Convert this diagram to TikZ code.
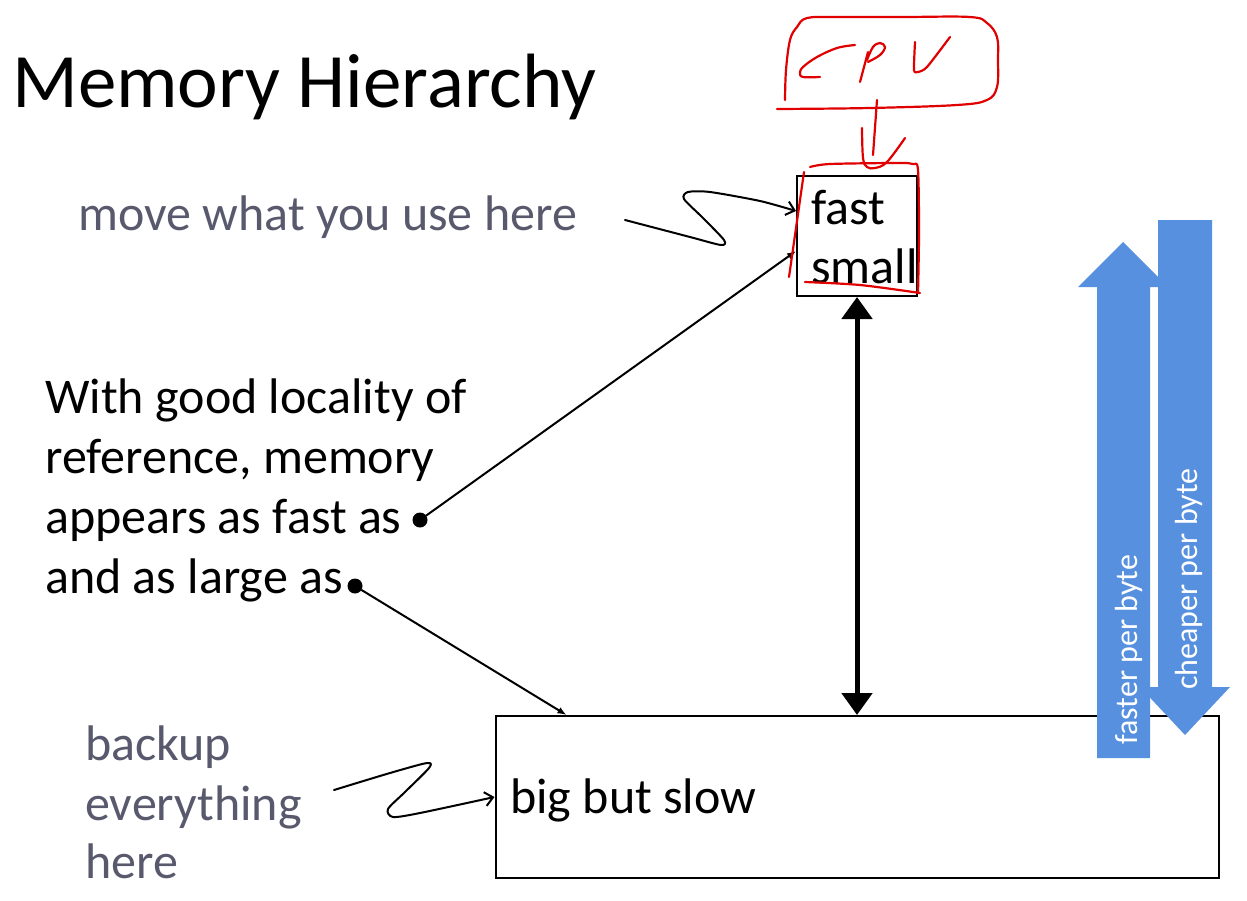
\documentclass[tikz,border=0pt]{standalone}
\usepackage{fontspec}
\setmainfont{Carlito}
\usetikzlibrary{arrows.meta,calc}
\definecolor{slidegray}{RGB}{89,89,110}
\definecolor{slideblue}{RGB}{86,144,222}
\definecolor{inkred}{RGB}{225,0,0}

\begin{document}
\begin{tikzpicture}[x=1pt,y=-1pt,
  txt/.style={anchor=base west,inner sep=0pt,font=\fontsize{50}{60}\selectfont},
  note/.style={txt,text=slidegray},
  box/.style={draw,line width=2pt,inner sep=0pt},
  ink/.style={inkred,line width=2.2pt,line cap=round,line join=round},
  pen/.style={line width=2pt,line cap=round,line join=round},
  dot/.style={circle,fill,inner sep=0pt,minimum size=15pt},
  band/.style={text=white,anchor=base west,inner sep=0pt,rotate=90,font=\fontsize{32}{38}\selectfont},
  thintip/.style={-{Latex[length=9pt,width=7pt]}},
  barbtip/.style={-{Straight Barb[length=8pt,width=14pt,line width=2pt]}}]
\useasboundingbox (0,0) rectangle (1247,900);
\fill[white] (0,0) rectangle (1247,900);

% title
\node[anchor=base west,inner sep=0pt,font=\fontsize{77}{90}\selectfont] (title) at (12,107) {Memory Hierarchy};

% the two memory levels
\node[box,minimum width=120pt,minimum height=120pt] (cache) at (857,236) {};
\node[txt] (fast) at (811,224) {fast};
\node[txt] (small) at (811,283) {small};
\node[box,minimum width=723pt,minimum height=162pt] (mem) at (857,797) {};
\node[txt] (slow) at (510,813) {big but slow};

% explanatory notes
\node[note] (move) at (78,230) {move what you use here};
\node[txt] (loc1) at (45,413) {With good locality of};
\node[txt] (loc2) at (45,473) {reference, memory};
\node[txt] (loc3) at (45,533) {appears as fast as};
\node[txt] (loc4) at (45,593) {and as large as};
\node[note] (bk1) at (85,760) {backup};
\node[note] (bk2) at (85,820) {everything};
\node[note] (bk3) at (85,878) {here};

% transfer between the levels
\draw[line width=5pt,{Triangle[width=30pt,length=22pt]}-{Triangle[width=30pt,length=22pt]}]
  (cache.south) -- (mem.north);

% pointers from the text
\node[dot] (dfast) at (420,520) {};
\node[dot] (dlarge) at (355,586) {};
\coordinate (cin) at ($(cache.north west)+(0,76)$);
\coordinate (min) at ($(mem.north west)+(72,0)$);
\draw[pen,thintip] (dfast) -- (cin);
\draw[pen,thintip] (dlarge) -- (min);

\coordinate (mstart) at (625,220);
\coordinate (ctop) at ($(cache.north west)+(0,36)$);
\draw[pen,barbtip] plot[smooth,tension=0.45] coordinates
  {(mstart) (690,237) (721,245) (724,240) (703,218) (684,199) (688,192) (710,192) (760,201) (ctop)};

\coordinate (bstart) at (334,790);
\draw[pen,barbtip] plot[smooth,tension=0.45] coordinates
  {(bstart) (390,773) (427,763) (429,768) (405,792) (388,809) (393,817) (420,813) (mem.west)};

% cost / speed bands
\fill[slideblue] (1097,758) -- (1097,287) -- (1078,287) -- (1123,242) -- (1168,287)
  -- (1150,287) -- (1150,758) -- cycle;
\fill[slideblue] (1158,220) -- (1212,220) -- (1212,687) -- (1230,687) -- (1185,735)
  -- (1140,687) -- (1158,687) -- cycle;
\node[band] (faster) at (1137,745) {faster per byte};
\node[band] (cheaper) at (1197,690) {cheaper per byte};

% handwritten CPU annotation
\draw[ink] plot[smooth,tension=0.6] coordinates
  {(777,109) (870,108) (957,105) (987,100) (997,87) (998,60) (997,37) (987,23) (970,17)
   (903,17) (837,17) (807,18) (797,27) (790,40) (786,70) (785,100)};
\draw[ink] plot[smooth,tension=0.6] coordinates
  {(855,45) (837,48) (817,57) (803,67) (800,73) (803,77) (820,77)};
\draw[ink] (868,52) -- (860,82);
\draw[ink] plot[smooth,tension=0.6] coordinates
  {(867,60) (873,47) (880,43) (885,47) (880,55) (868,62)};
\draw[ink] plot[smooth,tension=0.4] coordinates
  {(915,42) (914,70) (918,72) (927,67) (950,37)};
\draw[ink] (877,100) -- (873,155);
\draw[ink] plot[smooth,tension=0.6] coordinates
  {(862,128) (863,158) (867,167) (875,168) (887,162) (905,138)};
\draw[ink] plot[smooth,tension=0.5] coordinates
  {(810,167) (830,164) (897,163) (913,164) (918,170) (919,233) (918,293)};
\draw[ink] (804,172) -- (789,277);
\draw[ink] plot[smooth,tension=0.5] coordinates
  {(805,282) (860,285) (920,293)};
\end{tikzpicture}
\end{document}
